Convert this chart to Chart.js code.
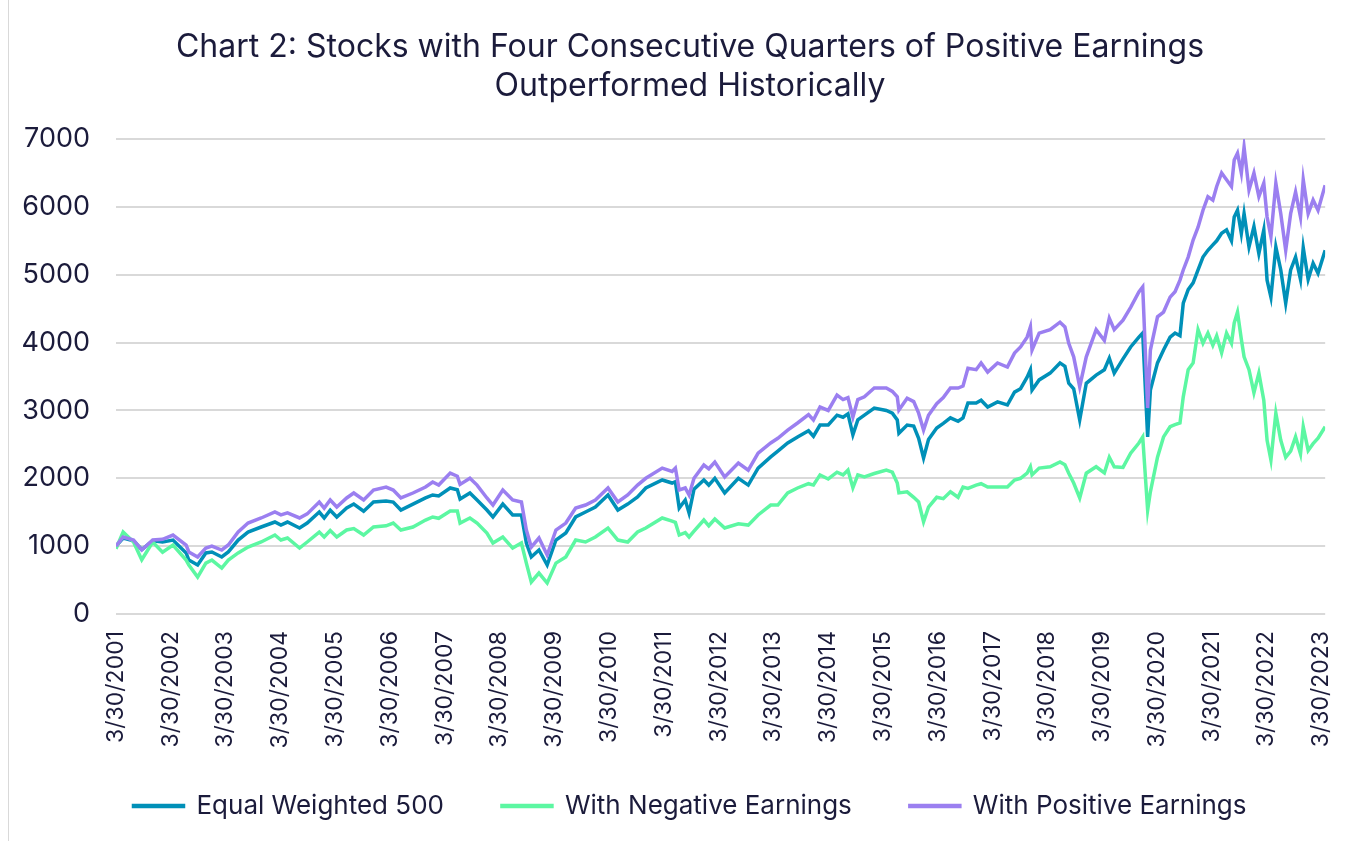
<!DOCTYPE html>
<html><head><meta charset="utf-8">
<script src="https://cdn.jsdelivr.net/npm/chart.js@4.4.0/dist/chart.umd.min.js"></script>
<style>
html,body{margin:0;padding:0;background:#fff;}
#wrap{position:relative;width:1366px;height:841px;overflow:hidden;}
#frame{position:absolute;left:8px;top:0;width:1px;height:841px;background:#d9d9d9;}
canvas{position:absolute;left:0;top:0;}
</style></head><body>
<div id="wrap"><div id="frame"></div><canvas id="c" width="1366" height="841"></canvas></div>
<script>
const titleLines = ['Chart 2: Stocks with Four Consecutive Quarters of Positive Earnings', 'Outperformed Historically'];
const seriesNames = ['Equal Weighted 500', 'With Negative Earnings', 'With Positive Earnings'];
const tickDates = [2001.24,2002.24,2003.24,2004.24,2005.24,2006.24,2007.24,2008.24,2009.24,2010.24,2011.24,2012.24,2013.24,2014.24,2015.24,2016.24,2017.24,2018.24,2019.24,2020.24,2021.24,2022.24,2023.24];
const tickLabels = ['3/30/2001','3/30/2002','3/30/2003','3/30/2004','3/30/2005','3/30/2006','3/30/2007','3/30/2008','3/30/2009','3/30/2010','3/30/2011','3/30/2012','3/30/2013','3/30/2014','3/30/2015','3/30/2016','3/30/2017','3/30/2018','3/30/2019','3/30/2020','3/30/2021','3/30/2022','3/30/2023'];
const yTicks = [0,1000,2000,3000,4000,5000,6000,7000];
const yTickLabels = ['0','1000','2000','3000','4000','5000','6000','7000'];

const dates = [
2001.24,2001.37,2001.56,2001.71,2001.91,2002.09,2002.28,2002.52,2002.57,2002.73,2002.88,2002.99,2003.17,2003.29,2003.47,2003.65,2003.89,2004.14,2004.25,2004.37,
2004.59,2004.73,2004.95,2005.04,2005.15,2005.27,2005.45,2005.58,2005.76,2005.94,2006.17,2006.30,2006.44,2006.66,2006.89,2007.02,2007.13,2007.34,2007.47,2007.52,
2007.70,2007.83,2008.01,2008.12,2008.30,2008.48,2008.64,2008.73,2008.82,2008.96,2009.11,2009.27,2009.45,2009.63,2009.81,2009.99,2010.22,2010.40,2010.58,2010.76,
2010.91,2011.21,2011.39,2011.45,2011.52,2011.63,2011.70,2011.79,2011.97,2012.06,2012.17,2012.35,2012.60,2012.78,2012.96,2013.19,2013.32,2013.50,2013.68,2013.88,
2013.97,2014.09,2014.24,2014.40,2014.51,2014.60,2014.69,2014.78,2014.90,2015.08,2015.30,2015.41,2015.50,2015.53,2015.68,2015.80,2015.89,2015.98,2016.07,2016.22,2016.34,2016.47,2016.61,2016.70,2016.79,2016.94,2017.03,
2017.15,2017.33,2017.51,2017.64,2017.75,2017.87,2017.93,2017.96,2018.09,2018.29,2018.47,2018.56,2018.63,2018.72,2018.83,2018.95,2019.13,2019.28,2019.37,2019.46,2019.62,2019.76,2019.91,2019.98,2020.07,2020.12,
2020.25,2020.36,2020.48,2020.57,2020.66,2020.72,2020.81,2020.90,2020.99,2021.08,2021.17,2021.26,2021.33,2021.42,2021.51,2021.60,2021.65,2021.71,2021.78,2021.83,2021.92,2022.01,2022.10,2022.19,2022.25,2022.32,2022.41,2022.50,2022.59,2022.68,2022.77,2022.86,2022.91,2023.00,2023.09,2023.18,2023.31
];
const positiveEarnings = [
1000,1135,1090,943,1090,1100,1164,1017,914,840,972,1002,943,1017,1208,1340,1415,1503,1460,1490,
1415,1475,1650,1560,1680,1577,1710,1783,1680,1827,1871,1827,1710,1783,1871,1945,1900,2077,2030,1910,
2000,1900,1710,1606,1827,1680,1650,1238,987,1120,870,1238,1340,1562,1606,1680,1857,1650,1754,1900,
2000,2150,2100,2150,1827,1857,1754,2000,2195,2140,2240,2020,2225,2120,2370,2520,2590,2710,2815,2940,
2860,3050,3000,3225,3160,3190,2900,3160,3200,3330,3330,3280,3200,3005,3180,3130,2960,2710,2930,3100,3190,3330,3330,3360,3620,3600,3700,
3565,3700,3640,3845,3935,4080,4230,3890,4140,4190,4300,4230,3990,3790,3350,3790,4190,4030,4360,4190,4330,4520,4745,4820,3035,3890,
4380,4450,4670,4750,4920,5070,5260,5510,5700,5950,6150,6100,6300,6500,6400,6300,6690,6790,6500,6880,6250,6500,6150,6350,5850,5560,6350,5900,5360,5900,6220,5850,6400,5900,6100,5950,6320
];
const equalWeighted = [
1000,1120,1080,950,1080,1060,1090,900,795,722,900,914,840,914,1090,1208,1282,1356,1310,1355,
1267,1340,1503,1415,1530,1430,1562,1620,1515,1650,1665,1650,1532,1620,1710,1754,1740,1857,1830,1695,
1783,1680,1532,1430,1620,1460,1460,1046,840,943,722,1090,1194,1430,1503,1577,1754,1532,1620,1724,
1857,1975,1930,1950,1562,1680,1488,1840,1975,1900,2000,1783,2000,1900,2150,2315,2400,2520,2610,2700,
2620,2785,2785,2930,2900,2950,2640,2860,2930,3035,3000,2960,2860,2665,2785,2770,2590,2300,2570,2740,2810,2890,2840,2890,3110,3110,3150,
3050,3125,3080,3270,3320,3490,3600,3300,3450,3550,3700,3650,3400,3320,2860,3400,3520,3600,3770,3550,3760,3935,4080,4140,2610,3300,
3700,3890,4080,4140,4100,4580,4780,4880,5070,5260,5360,5440,5500,5610,5660,5500,5850,5950,5610,5900,5410,5710,5310,5660,4920,4670,5410,5070,4580,5070,5260,4930,5400,4930,5170,5020,5360
];
const negativeEarnings = [
960,1208,1060,800,1060,910,1017,795,722,545,750,795,678,795,900,987,1061,1164,1090,1120,
972,1061,1208,1135,1230,1135,1238,1260,1164,1282,1300,1340,1238,1282,1385,1430,1410,1518,1518,1340,
1415,1340,1194,1046,1135,972,1046,750,472,604,457,750,840,1090,1061,1135,1267,1090,1061,1208,
1267,1415,1370,1350,1164,1200,1135,1220,1385,1300,1400,1267,1330,1310,1460,1606,1606,1783,1857,1920,
1900,2050,1990,2090,2050,2120,1860,2050,2020,2070,2120,2090,1930,1785,1800,1720,1650,1360,1575,1720,1700,1800,1720,1870,1850,1900,1920,
1870,1870,1870,1975,2000,2075,2170,2050,2150,2170,2240,2200,2075,1930,1710,2075,2170,2080,2310,2170,2160,2370,2520,2610,1530,1800,
2310,2610,2760,2790,2815,3200,3600,3700,4190,3990,4140,3960,4100,3850,4140,3990,4290,4450,4050,3790,3600,3260,3550,3150,2560,2270,2960,2560,2310,2400,2610,2360,2760,2410,2510,2590,2760
];
const xMin = 2001.24, xMax = 2023.31;

const TEXT = '#1b1b3b';
const FONT = 'Inter, "Noto Sans", sans-serif';
const colors = ['#0090b8', '#5cf7a2', '#9b7ff0'];
const seriesValues = [equalWeighted, negativeEarnings, positiveEarnings];
const drawOrder = [3, 2, 1];

const noLabelClip = {
  id: 'noLabelClip',
  beforeDraw(chart) {
    Object.values(chart.scales).forEach(s => { s._computeLabelArea = () => undefined; });
  }
};

new Chart(document.getElementById('c'), {
  type: 'line',
  plugins: [noLabelClip],
  data: {
    datasets: seriesNames.map((name, k) => ({
      label: name,
      data: dates.map((d, i) => ({ x: d, y: seriesValues[k][i] })),
      borderColor: colors[k],
      backgroundColor: colors[k],
      borderWidth: 3.5,
      pointRadius: 0,
      tension: 0,
      order: drawOrder[k]
    }))
  },
  options: {
    responsive: false,
    animation: false,
    devicePixelRatio: 1,
    layout: { padding: { left: 38, right: 24, top: 0, bottom: 12 } },
    plugins: {
      title: {
        display: true, text: titleLines, color: TEXT,
        font: { family: FONT, size: 32, weight: 'normal', lineHeight: 39 / 32 },
        padding: { top: 28, bottom: 33 }
      },
      legend: {
        position: 'bottom',
        labels: {
          color: TEXT, font: { family: FONT, size: 26 },
          boxWidth: 50, boxHeight: 1, padding: 58,
          sort: (a, b) => a.datasetIndex - b.datasetIndex
        }
      },
      tooltip: { enabled: false }
    },
    scales: {
      x: {
        type: 'linear', min: xMin, max: xMax,
        grid: { display: false, drawTicks: false },
        border: { display: false },
        afterBuildTicks: s => { s.ticks = tickDates.map(v => ({ value: v })); },
        afterFit: s => { s.height = 121; },
        ticks: {
          autoSkip: false, minRotation: 90, maxRotation: 90, padding: 17,
          color: TEXT, font: { family: FONT, size: 23 },
          callback: (v, i) => tickLabels[i]
        }
      },
      y: {
        min: 0, max: 7000,
        afterBuildTicks: s => { s.ticks = yTicks.map(v => ({ value: v })); },
        afterFit: s => { s.width = 78; },
        grid: { color: '#d9d9d9', lineWidth: 2, drawTicks: false },
        border: { display: false },
        ticks: { padding: 26, color: TEXT, font: { family: FONT, size: 27 }, callback: (v, i) => yTickLabels[i] }
      }
    }
  }
});
</script>
</body></html>
